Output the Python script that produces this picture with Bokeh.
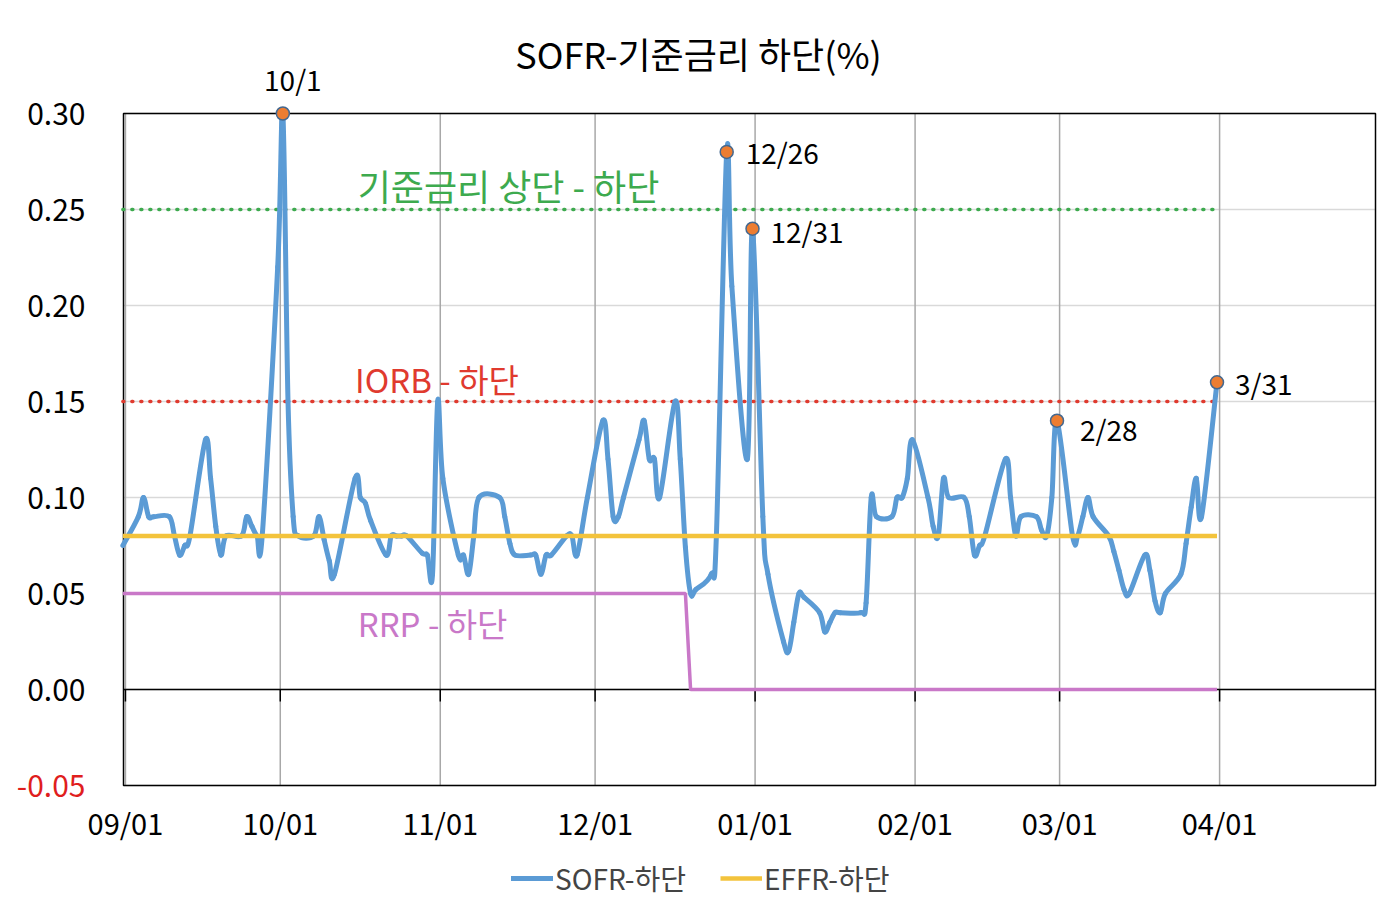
import pandas as pd
from bokeh.plotting import figure
from bokeh.models import Range1d, Label, Legend, LegendItem, ColumnDataSource
from bokeh.embed import file_html
from bokeh.resources import INLINE

FONT = "Noto Sans CJK KR"

title_text = "SOFR-기준금리 하단(%)"

# SOFR minus lower bound of the target range (%), business days
sofr_dates = [
    "2024-08-31", "2024-09-03", "2024-09-04", "2024-09-05", "2024-09-06", "2024-09-09", "2024-09-10",
    "2024-09-11", "2024-09-12", "2024-09-13", "2024-09-16", "2024-09-17", "2024-09-18", "2024-09-19",
    "2024-09-20", "2024-09-23", "2024-09-24", "2024-09-25", "2024-09-26", "2024-09-27", "2024-09-30",
    "2024-10-01", "2024-10-02", "2024-10-03", "2024-10-04", "2024-10-07", "2024-10-08", "2024-10-09",
    "2024-10-10", "2024-10-11", "2024-10-15", "2024-10-16", "2024-10-17", "2024-10-18", "2024-10-21",
    "2024-10-22", "2024-10-23", "2024-10-24", "2024-10-25", "2024-10-28", "2024-10-29", "2024-10-30",
    "2024-10-31", "2024-11-01", "2024-11-04", "2024-11-05", "2024-11-06", "2024-11-07", "2024-11-08",
    "2024-11-12", "2024-11-13", "2024-11-14", "2024-11-15", "2024-11-18", "2024-11-19", "2024-11-20",
    "2024-11-21", "2024-11-22", "2024-11-25", "2024-11-26", "2024-11-27", "2024-11-29", "2024-12-02",
    "2024-12-03", "2024-12-04", "2024-12-05", "2024-12-06", "2024-12-09", "2024-12-10", "2024-12-11",
    "2024-12-12", "2024-12-13", "2024-12-16", "2024-12-17", "2024-12-18", "2024-12-19", "2024-12-20",
    "2024-12-23", "2024-12-24", "2024-12-26", "2024-12-27", "2024-12-30", "2024-12-31", "2025-01-02",
    "2025-01-03", "2025-01-06", "2025-01-07", "2025-01-08", "2025-01-09", "2025-01-10", "2025-01-13",
    "2025-01-14", "2025-01-15", "2025-01-16", "2025-01-17", "2025-01-21", "2025-01-22", "2025-01-23",
    "2025-01-24", "2025-01-27", "2025-01-28", "2025-01-29", "2025-01-30", "2025-01-31", "2025-02-03",
    "2025-02-04", "2025-02-05", "2025-02-06", "2025-02-07", "2025-02-10", "2025-02-11", "2025-02-12",
    "2025-02-13", "2025-02-14", "2025-02-18", "2025-02-19", "2025-02-20", "2025-02-21", "2025-02-24",
    "2025-02-25", "2025-02-26", "2025-02-27", "2025-02-28", "2025-03-03", "2025-03-04", "2025-03-05",
    "2025-03-06", "2025-03-07", "2025-03-10", "2025-03-11", "2025-03-12", "2025-03-13", "2025-03-14",
    "2025-03-17", "2025-03-18", "2025-03-19", "2025-03-20", "2025-03-21", "2025-03-24", "2025-03-25",
    "2025-03-26", "2025-03-27", "2025-03-28", "2025-03-31",
]
sofr_values = [
    0.075, 0.09, 0.10, 0.09, 0.09, 0.09, 0.08,
    0.07, 0.075, 0.08, 0.13, 0.11, 0.085, 0.07,
    0.08, 0.08, 0.09, 0.085, 0.08, 0.08, 0.22,
    0.30, 0.15, 0.09, 0.08, 0.08, 0.09, 0.078,
    0.067, 0.06, 0.11, 0.10, 0.097, 0.088, 0.07,
    0.08, 0.08, 0.08, 0.08, 0.071, 0.07, 0.06,
    0.15, 0.11, 0.07, 0.07, 0.06, 0.08, 0.10,
    0.10, 0.09, 0.076, 0.07, 0.07, 0.07, 0.06,
    0.07, 0.07, 0.08, 0.08, 0.07, 0.10, 0.14,
    0.12, 0.09, 0.09, 0.10, 0.13, 0.14, 0.12,
    0.12, 0.10, 0.15, 0.12, 0.074, 0.05, 0.052,
    0.06, 0.08, 0.28, 0.21, 0.12, 0.24, 0.09,
    0.06, 0.025, 0.02, 0.035, 0.05, 0.048, 0.04,
    0.03, 0.035, 0.04, 0.04, 0.04, 0.045, 0.10,
    0.09, 0.09, 0.10, 0.10, 0.11, 0.13, 0.10,
    0.085, 0.08, 0.11, 0.10, 0.10, 0.09, 0.07,
    0.075, 0.08, 0.12, 0.10, 0.08, 0.09, 0.09,
    0.083, 0.08, 0.10, 0.14, 0.08, 0.08, 0.09,
    0.10, 0.09, 0.08, 0.072, 0.062, 0.052, 0.05,
    0.07, 0.062, 0.046, 0.04, 0.05, 0.06, 0.076,
    0.095, 0.11, 0.09, 0.16,
]

# EFFR minus lower bound
effr_dates = ["2024-08-31", "2025-03-31"]
effr_values = [0.08, 0.08]

# Reference spreads
iorb_dates = ["2024-08-31", "2025-03-31"]
iorb_values = [0.15, 0.15]
range_dates = ["2024-08-31", "2025-03-31"]
range_values = [0.25, 0.25]
rrp_dates = ["2024-08-31", "2024-12-18", "2024-12-19", "2025-03-31"]
rrp_values = [0.05, 0.05, 0.00, 0.00]

highlight_dates = ["2024-10-01", "2024-12-26", "2024-12-31", "2025-02-28", "2025-03-31"]
highlight_labels = ["10/1", "12/26", "12/31", "2/28", "3/31"]

month_ticks = ["2024-09-01", "2024-10-01", "2024-11-01", "2024-12-01", "2025-01-01",
               "2025-02-01", "2025-03-01", "2025-04-01"]
y_ticks = [-0.05, 0.0, 0.05, 0.10, 0.15, 0.20, 0.25, 0.30]

BLUE = "#5B9BD5"
YELLOW = "#F3C33C"
GREEN = "#3DAA4E"
RED = "#E03A2E"
VIOLET = "#C978C8"
NEG_RED = "#E01E1E"

DAY_MS = 86400000.0
HALF_DAY_MS = DAY_MS / 2  # points sit in the middle of their date slot


def ms(ts):
    return pd.Timestamp(ts).value / 1e6


def xs_of(dates):
    return [ms(d) + HALF_DAY_MS for d in dates]


# plot area in data units, and the canvas around it (the frame fills the whole canvas)
W, H = 1396, 912
X0 = ms("2024-09-01") - 9 * 3600e3
X1 = ms("2025-05-01") + 5 * 3600e3
Y0, Y1 = -0.05, 0.30
px_per_ms = (1375 - 123) / (X1 - X0)
px_per_y = (785 - 113) / (Y1 - Y0)
XL = X0 - 123 / px_per_ms
XR = X1 + (W - 1375) / px_per_ms
YT = Y1 + 113 / px_per_y
YB = Y0 - (H - 785) / px_per_y


def px_x(px):
    return XL + px / px_per_ms


def px_y(py):
    return YT - py / px_per_y


p = figure(width=W, height=H, x_axis_location=None, y_axis_location=None,
           output_backend="svg", toolbar_location=None,
           x_range=Range1d(XL, XR), y_range=Range1d(YB, YT),
           min_border_left=0, min_border_right=0, min_border_top=0, min_border_bottom=0)
p.title.visible = False
p.background_fill_color = "white"
p.border_fill_color = "white"
p.outline_line_color = None
p.xgrid.visible = False
p.ygrid.visible = False

tick_ms = [ms(t) for t in month_ticks]

# gridlines
p.segment(x0=X0, x1=X1, y0=y_ticks, y1=y_ticks, line_color="#D9D9D9", line_width=1.5)
p.segment(x0=tick_ms, x1=tick_ms, y0=Y0, y1=Y1, line_color="#A8A8A8", line_width=1.5)

# zero axis line with tick marks
p.segment(x0=X0, x1=X1, y0=0, y1=0, line_color="black", line_width=1.6)
p.segment(x0=tick_ms, y0=0, x1=tick_ms, y1=-12 / px_per_y, line_color="black", line_width=1.5)

# plot area border
p.quad(left=X0, right=X1, bottom=Y0, top=Y1, fill_alpha=0, line_color="black", line_width=1.5)

# axis tick labels
p.text(x=X0, y=y_ticks, text=[f"{v:.2f}" for v in y_ticks], x_offset=-38,
       text_align="right", text_baseline="middle", text_font={"value": FONT},
       text_font_size="30px",
       text_color=[NEG_RED if v < 0 else "black" for v in y_ticks])
p.text(x=tick_ms, y=px_y(821), text=[pd.Timestamp(t).strftime("%m/%d") for t in month_ticks],
       text_align="center", text_baseline="middle", text_font={"value": FONT},
       text_font_size="29px", text_color="black")

# reference lines
p.line(xs_of(rrp_dates), rrp_values, line_color=VIOLET, line_width=3.5)
p.line(xs_of(iorb_dates), iorb_values, line_color=RED, line_width=3.5, line_dash="1 8", line_cap="round")
p.line(xs_of(range_dates), range_values, line_color=GREEN, line_width=3.5, line_dash="1 8", line_cap="round")

# SOFR drawn as a smoothed curve through the data points (Catmull-Rom style Bezier segments)
sx = xs_of(sofr_dates)
sy = sofr_values
n = len(sx)
seg = dict(x0=[], y0=[], x1=[], y1=[], cx0=[], cy0=[], cx1=[], cy1=[])
for i in range(n - 1):
    a, b = max(i - 1, 0), min(i + 2, n - 1)
    seg["x0"].append(sx[i]); seg["y0"].append(sy[i])
    seg["x1"].append(sx[i + 1]); seg["y1"].append(sy[i + 1])
    seg["cx0"].append(sx[i] + (sx[i + 1] - sx[a]) / 6); seg["cy0"].append(sy[i] + (sy[i + 1] - sy[a]) / 6)
    seg["cx1"].append(sx[i + 1] - (sx[b] - sx[i]) / 6); seg["cy1"].append(sy[i + 1] - (sy[b] - sy[i]) / 6)
r_sofr = p.bezier(source=ColumnDataSource(seg), line_color=BLUE, line_width=5, line_cap="round")

r_effr = p.line(xs_of(effr_dates), effr_values, line_color=YELLOW, line_width=4.5)

# highlighted points
sofr_map = dict(zip(sofr_dates, sofr_values))
hl_y = [sofr_map[d] for d in highlight_dates]
p.scatter(xs_of(highlight_dates), hl_y, size=13, fill_color="#ED7D31", line_color="#44688F", line_width=1.5)

label_offsets = [(10, 35, "center"), (19, 0, "left"), (18, -2, "left"), (23, -8, "left"), (18, -1, "left")]
for x, txt, y, (dx, dy, al) in zip(xs_of(highlight_dates), highlight_labels, hl_y, label_offsets):
    p.add_layout(Label(x=x, y=y, text=txt, x_offset=dx, y_offset=dy,
                       text_align=al, text_baseline="middle", text_font=FONT,
                       text_font_size="28px", text_color="black"))

# series annotations
p.add_layout(Label(x=ms("2024-10-16"), y=0.25, y_offset=25, text="기준금리 상단 - 하단",
                   text_align="left", text_baseline="middle", text_font=FONT,
                   text_font_size="36px", text_color=GREEN))
p.add_layout(Label(x=ms("2024-10-16") - 0.5 * DAY_MS, y=0.15, y_offset=23, text="IORB - 하단",
                   text_align="left", text_baseline="middle", text_font=FONT,
                   text_font_size="33px", text_color=RED))
p.add_layout(Label(x=ms("2024-10-16"), y=0.05, y_offset=-29, text="RRP - 하단",
                   text_align="left", text_baseline="middle", text_font=FONT,
                   text_font_size="33px", text_color=VIOLET))

# title
p.add_layout(Label(x=px_x(698), y=Y1, y_offset=61, text=title_text, text_align="center",
                   text_baseline="middle", text_font=FONT, text_font_size="36px",
                   text_color="black"))

legend = Legend(items=[LegendItem(label="SOFR-하단", renderers=[r_sofr]),
                       LegendItem(label="EFFR-하단", renderers=[r_effr])],
                orientation="horizontal", location=(511, 14),
                label_text_font=FONT, label_text_font_size="28px", label_standoff=2,
                glyph_width=42, spacing=34, padding=0, margin=0,
                border_line_color=None, background_fill_alpha=0)
p.add_layout(legend)

open("out.html", "w").write(file_html(p, INLINE))
